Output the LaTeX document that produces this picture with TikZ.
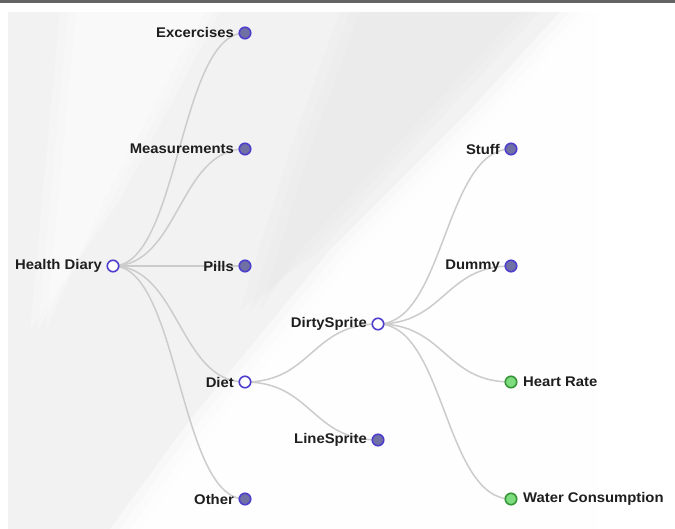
\documentclass[tikz,border=0pt]{standalone}
\usepackage{fontspec}
\setmainfont{Liberation Sans}[FakeStretch=1.06]
\usetikzlibrary{calc}
\definecolor{linkc}{RGB}{204,204,204}
\definecolor{leaffill}{RGB}{112,112,165}
\definecolor{nodestroke}{RGB}{78,62,205}
\definecolor{greenfill}{RGB}{125,220,125}
\definecolor{greenstroke}{RGB}{55,150,55}
\definecolor{txt}{RGB}{30,30,30}
\definecolor{bgA}{RGB}{242,242,242}
\definecolor{bgB}{RGB}{232,232,232}
\definecolor{barc}{RGB}{100,100,100}
\pgfdeclarelayer{back}
\pgfdeclarelayer{links}
\pgfsetlayers{back,links,main}
\tikzset{
  dot/.style={circle, minimum size=11.5pt, inner sep=0pt, line width=1.6pt},
  leafdot/.style={dot, draw=nodestroke, fill=leaffill},
  opendot/.style={dot, draw=nodestroke, fill=white},
  greendot/.style={dot, draw=greenstroke, fill=greenfill},
  lbl/.style={text=txt, font=\fontsize{14}{16}\selectfont\bfseries, inner sep=0pt},
  lbll/.style={lbl, anchor=east},
  lblr/.style={lbl, anchor=west},
  link/.style={draw=linkc, line width=1.5pt},
}
\newcommand\treelink[2]{%
  \draw[link] let \p1=(#1.center), \p2=(#2.center) in
    (\p1) .. controls ({(\x1+\x2)/2},\y1) and ({(\x1+\x2)/2},\y2) .. (\p2);}
\begin{document}
\begin{tikzpicture}[x=1pt,y=-1pt]
\useasboundingbox (0,0) rectangle (675,529);
% background
\begin{pgfonlayer}{back}
\fill[white] (0,0) rectangle (675,529);
\fill[bgA] (8,12) rectangle (598,529);
\foreach \o in {0,10,20,30,40}{
  \fill[white, opacity=0.5] ({598-\o},12) -- (598,12) -- (598,529) -- ({110+\o},529)
     -- ({190+\o},420) -- ({330+\o},250) -- ({470+\o},110) -- ({560+\o},12) -- cycle;
}
\foreach \o in {0,10,20}{
  \fill[bgB, opacity=0.25] ({340+\o},12) -- ({540-\o},12) -- ({430-\o},130)
     -- ({320-\o},250) -- ({240+\o},310) -- ({290+\o},150) -- cycle;
}
\foreach \o in {0,8,16}{
  \fill[white, opacity=0.25] ({60+\o},12) -- ({220-\o},12) -- ({120-\o},200) -- ({30+\o},330) -- cycle;
}
\fill[barc] (0,0) rectangle (675,3);
\end{pgfonlayer}
% nodes
\node[opendot] (hd) at (113,266) {};
\node[leafdot] (exc) at (245,33) {};
\node[leafdot] (mea) at (245,149) {};
\node[leafdot] (pil) at (245,266) {};
\node[opendot] (die) at (245,382) {};
\node[leafdot] (oth) at (245,499) {};
\node[opendot] (dsp) at (378,324) {};
\node[leafdot] (lsp) at (378,440) {};
\node[leafdot] (stu) at (511,149) {};
\node[leafdot] (dum) at (511,266) {};
\node[greendot] (hr) at (511,382) {};
\node[greendot] (wc) at (511,499) {};
% labels
\node[lbll] (hdT) at ([xshift=-11pt]hd.center) {Health Diary};
\node[lbll] (excT) at ([xshift=-11pt]exc.center) {Excercises};
\node[lbll] (meaT) at ([xshift=-11pt]mea.center) {Measurements};
\node[lbll] (pilT) at ([xshift=-11pt]pil.center) {Pills};
\node[lbll] (dieT) at ([xshift=-11pt]die.center) {Diet};
\node[lbll] (othT) at ([xshift=-11pt]oth.center) {Other};
\node[lbll] (dspT) at ([xshift=-11pt]dsp.center) {DirtySprite};
\node[lbll] (lspT) at ([xshift=-11pt]lsp.center) {LineSprite};
\node[lbll] (stuT) at ([xshift=-11pt]stu.center) {Stuff};
\node[lbll] (dumT) at ([xshift=-11pt]dum.center) {Dummy};
\node[lblr] (hrT) at ([xshift=12pt]hr.center) {Heart Rate};
\node[lblr] (wcT) at ([xshift=12pt]wc.center) {Water Consumption};
% links
\begin{pgfonlayer}{links}
\treelink{hd}{exc}
\treelink{hd}{mea}
\treelink{hd}{pil}
\treelink{hd}{die}
\treelink{hd}{oth}
\treelink{die}{dsp}
\treelink{die}{lsp}
\treelink{dsp}{stu}
\treelink{dsp}{dum}
\treelink{dsp}{hr}
\treelink{dsp}{wc}
\end{pgfonlayer}
\end{tikzpicture}
\end{document}
